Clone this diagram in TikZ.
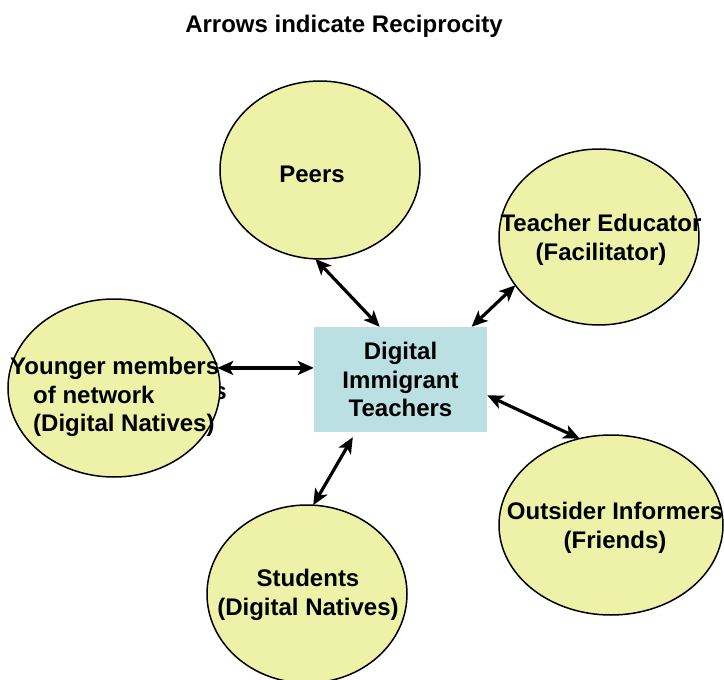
\documentclass[tikz,border=0pt]{standalone}
\usepackage{fontspec}
\setmainfont{Liberation Sans}
\usetikzlibrary{arrows.meta}
\usetikzlibrary{calc}
\usetikzlibrary{shapes}
\usetikzlibrary{positioning}

\definecolor{bubblefill}{RGB}{238,242,168}
\definecolor{boxfill}{RGB}{187,224,227}

\tikzset{
  bubble/.style={ellipse, draw, line width=1.5pt, fill=bubblefill, inner sep=0pt, outer sep=0pt},
  lbl/.style={font=\fontsize{24}{28.5}\selectfont\bfseries, inner sep=0pt, align=center},
  recip/.style={<->, line width=3.2pt},
  >={Stealth[length=16pt,width=14pt,inset=4pt]}
}

\begin{document}
\begin{tikzpicture}[x=1pt,y=1pt]
\useasboundingbox (0,0) rectangle (724,-680);

% title
\node[lbl, anchor=base] (title) at (344,-32) {Arrows indicate Reciprocity};

% text left behind the left bubble
\node[lbl] (ghost) at (220,-393) {s};

% bubbles
\node[bubble, minimum width=200pt, minimum height=178pt] (peers) at (320,-170) {};
\node[bubble, minimum width=200pt, minimum height=176pt] (teach) at (599,-237) {};
\node[bubble, minimum width=212pt, minimum height=178pt] (young) at (114,-388) {};
\node[bubble, minimum width=224pt, minimum height=180pt] (outs) at (611,-525) {};
\node[bubble, minimum width=200pt, minimum height=178pt] (stud) at (307,-594) {};

% centre box
\node[lbl, fill=boxfill, minimum width=173pt, minimum height=105pt] (box) at (400.5,-379.5)
  {Digital\\Immigrant\\Teachers};

% bubble texts
\node[lbl] (peerstxt) at (312,-174) {Peers};
\node[lbl] (teachtxt) at (601,-240) {Teacher Educator\\(Facilitator)};
\node[lbl, anchor=west, align=left] (youngtxt) at (10,-397)
  {Younger members\\\hspace*{23pt}of network\\\hspace*{23pt}(Digital Natives)};
\node[lbl] (outstxt) at (615,-528) {Outsider Informers\\(Friends)};
\node[lbl] (studtxt) at (308,-595) {Students\\(Digital Natives)};

% links
\draw[recip] (peers.-93) -- ($(box.north west)!0.38!(box.north east)$);
\draw[recip] (teach.210) -- ($(box.north west)!0.91!(box.north east)$);
\draw[recip] (young.11) -- (young.11 -| box.west);
\draw[recip] ($(box.north east)!0.65!(box.south east)$) -- (outs.110);
\draw[recip] ($(box.south west)!0.225!(box.south east)+(0,-5)$) -- (stud.86);
\end{tikzpicture}
\end{document}
